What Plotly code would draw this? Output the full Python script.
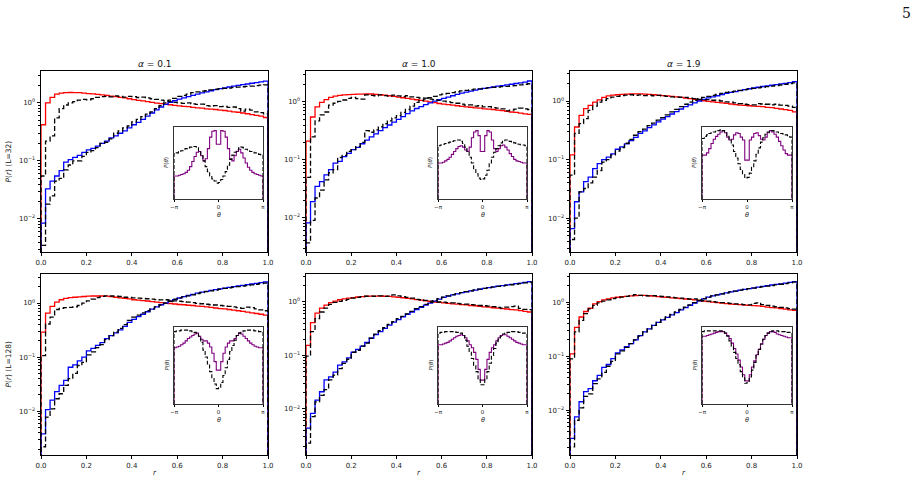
import numpy as np
import plotly.graph_objects as go

# ---------------- data ----------------
r_edges = np.linspace(0.0, 1.0, 51)
theta_edges = np.linspace(-np.pi, np.pi, 41)
r_ticks = [0.0, 0.2, 0.4, 0.6, 0.8, 1.0]
alpha_titles = ["0.1", "1.0", "1.9"]
L_labels = ["L=32", "L=128"]

# L=32, alpha=0.1
red_L32_a01 = [0.42,1.0,1.25,1.42,1.48,1.50,1.51,1.50,1.50,1.48,
               1.45,1.43,1.40,1.38,1.35,1.31,1.28,1.25,1.22,1.18,
               1.14,1.11,1.08,1.05,1.02,0.99,0.97,0.95,0.93,0.91,
               0.89,0.87,0.86,0.84,0.82,0.81,0.79,0.78,0.77,0.75,
               0.74,0.72,0.70,0.69,0.67,0.65,0.63,0.61,0.59,0.56]
dash1_L32_a01 = [0.055,0.22,0.27,0.55,0.80,0.92,1.0,1.05,1.12,1.15,
                 1.13,1.18,1.25,1.28,1.30,1.27,1.32,1.30,1.26,1.30,
                 1.28,1.24,1.26,1.22,1.18,1.15,1.12,1.08,1.05,1.02,
                 1.0,0.98,1.0,0.96,0.94,0.95,0.90,0.88,0.90,0.86,
                 0.87,0.84,0.85,0.80,0.72,0.78,0.75,0.70,0.68,0.65]
blue_L32_a01 = [0.0085,0.033,0.045,0.055,0.068,0.095,0.105,0.115,0.125,0.14,
                0.155,0.165,0.18,0.20,0.22,0.25,0.27,0.30,0.33,0.37,
                0.42,0.46,0.52,0.59,0.67,0.76,0.85,0.94,1.02,1.09,
                1.16,1.22,1.28,1.35,1.42,1.49,1.55,1.62,1.69,1.76,
                1.82,1.88,1.94,2.0,2.06,2.12,2.18,2.24,2.30,2.38]
dash2_L32_a01 = [0.0035,0.018,0.025,0.045,0.05,0.07,0.085,0.10,0.10,0.12,
                 0.14,0.15,0.17,0.20,0.21,0.24,0.30,0.33,0.37,0.40,
                 0.47,0.52,0.58,0.64,0.70,0.80,0.90,1.0,1.12,1.20,
                 1.30,1.35,1.42,1.50,1.55,1.60,1.62,1.68,1.72,1.75,
                 1.78,1.80,1.85,1.87,1.90,1.92,1.95,1.98,2.02,2.05]

# L=32, alpha=1.0
red_L32_a10 = [0.21,0.55,0.82,0.98,1.10,1.20,1.26,1.30,1.32,1.34,
               1.35,1.36,1.36,1.37,1.37,1.35,1.33,1.31,1.28,1.25,
               1.21,1.18,1.15,1.12,1.09,1.06,1.03,1.00,0.97,0.94,
               0.92,0.90,0.88,0.86,0.84,0.82,0.81,0.79,0.78,0.76,
               0.75,0.74,0.72,0.71,0.69,0.67,0.66,0.64,0.62,0.61]
dash1_L32_a10 = [0.05,0.25,0.47,0.60,0.67,0.88,0.95,1.02,1.08,1.15,
                 1.20,1.14,1.12,1.32,1.30,1.28,1.32,1.29,1.26,1.31,
                 1.27,1.24,1.28,1.22,1.20,1.17,1.16,1.12,1.10,1.06,
                 1.03,1.0,0.97,0.95,0.92,0.88,0.89,0.85,0.86,0.82,
                 0.83,0.80,0.78,0.76,0.70,0.72,0.75,0.78,0.76,0.74]
blue_L32_a10 = [0.0082,0.019,0.035,0.042,0.055,0.068,0.088,0.094,0.114,0.13,
                0.15,0.165,0.19,0.22,0.25,0.28,0.32,0.36,0.40,0.45,
                0.50,0.56,0.63,0.70,0.77,0.83,0.90,0.96,1.03,1.09,
                1.15,1.21,1.28,1.35,1.42,1.48,1.54,1.60,1.66,1.72,
                1.77,1.82,1.87,1.92,1.97,2.02,2.08,2.14,2.20,2.30]
dash2_L32_a10 = [0.0037,0.009,0.022,0.030,0.045,0.060,0.068,0.11,0.12,0.14,
                 0.15,0.17,0.20,0.32,0.30,0.33,0.37,0.42,0.47,0.53,
                 0.58,0.66,0.74,0.85,0.98,1.05,1.12,1.18,1.25,1.32,
                 1.36,1.40,1.45,1.50,1.55,1.58,1.62,1.66,1.68,1.72,
                 1.75,1.78,1.80,1.84,1.86,1.89,1.92,1.97,2.02,2.06]

# L=32, alpha=1.9
red_L32_a19 = [0.12,0.36,0.57,0.74,0.84,0.96,1.05,1.15,1.22,1.26,
               1.28,1.30,1.31,1.32,1.32,1.32,1.31,1.30,1.28,1.26,
               1.24,1.22,1.20,1.18,1.15,1.12,1.10,1.07,1.04,1.01,
               0.99,0.97,0.95,0.93,0.91,0.89,0.87,0.85,0.84,0.83,
               0.82,0.81,0.80,0.78,0.77,0.75,0.73,0.71,0.69,0.65]
dash1_L32_a19 = [0.054,0.28,0.41,0.50,0.69,0.82,0.96,1.03,1.10,1.17,
                 1.20,1.24,1.26,1.28,1.25,1.27,1.24,1.26,1.23,1.25,
                 1.22,1.20,1.18,1.17,1.16,1.15,1.12,1.10,1.07,1.05,
                 1.06,1.03,1.03,1.0,0.97,0.96,0.93,0.90,0.88,0.87,
                 0.86,0.90,0.89,0.88,0.86,0.88,0.85,0.84,0.82,0.78]
blue_L32_a19 = [0.0066,0.019,0.028,0.042,0.05,0.07,0.085,0.10,0.11,0.125,
                0.15,0.165,0.185,0.21,0.24,0.28,0.31,0.35,0.39,0.44,
                0.49,0.54,0.60,0.66,0.73,0.80,0.86,0.93,1.0,1.07,
                1.13,1.18,1.23,1.29,1.35,1.40,1.45,1.50,1.56,1.62,
                1.67,1.72,1.77,1.82,1.86,1.91,1.96,2.01,2.06,2.14]
dash2_L32_a19 = [0.0043,0.010,0.028,0.032,0.040,0.050,0.065,0.09,0.10,0.12,
                 0.14,0.16,0.19,0.22,0.26,0.30,0.33,0.38,0.42,0.47,
                 0.52,0.58,0.65,0.72,0.80,0.88,0.96,1.03,1.10,1.15,
                 1.20,1.25,1.30,1.35,1.40,1.44,1.48,1.52,1.56,1.60,
                 1.64,1.68,1.72,1.76,1.80,1.84,1.88,1.93,1.98,2.05]

# L=128, alpha=0.1
red_L128_a01 = [0.29,0.65,0.87,1.04,1.15,1.22,1.26,1.28,1.30,1.32,
                1.34,1.35,1.35,1.35,1.34,1.31,1.28,1.25,1.22,1.19,
                1.15,1.13,1.11,1.09,1.06,1.04,1.02,1.0,0.98,0.96,
                0.94,0.93,0.91,0.90,0.88,0.87,0.85,0.83,0.81,0.79,
                0.78,0.76,0.74,0.72,0.70,0.68,0.66,0.64,0.62,0.60]
dash1_L128_a01 = [0.107,0.41,0.55,0.76,0.80,0.82,0.83,0.85,0.90,1.0,
                  1.10,1.18,1.26,1.33,1.36,1.35,1.34,1.32,1.28,1.27,
                  1.25,1.23,1.22,1.20,1.18,1.16,1.14,1.15,1.13,1.10,
                  1.08,1.06,1.04,1.02,0.99,0.97,0.95,0.93,0.92,0.90,
                  0.89,0.87,0.85,0.82,0.80,0.84,0.82,0.78,0.75,0.72]
blue_L128_a01 = [0.0038,0.0107,0.016,0.023,0.03,0.037,0.065,0.072,0.085,0.10,
                 0.13,0.145,0.165,0.185,0.22,0.25,0.28,0.32,0.37,0.44,
                 0.50,0.56,0.62,0.69,0.77,0.85,0.93,1.0,1.08,1.16,
                 1.24,1.31,1.38,1.45,1.52,1.59,1.65,1.71,1.77,1.83,
                 1.89,1.95,2.01,2.07,2.13,2.19,2.25,2.31,2.38,2.45]
dash2_L128_a01 = [0.0022,0.0078,0.011,0.017,0.021,0.030,0.040,0.050,0.070,0.080,
                  0.11,0.125,0.15,0.17,0.21,0.25,0.29,0.34,0.40,0.48,
                  0.55,0.60,0.66,0.72,0.78,0.85,0.92,1.0,1.08,1.18,
                  1.25,1.30,1.36,1.42,1.50,1.56,1.62,1.68,1.74,1.80,
                  1.86,1.91,1.96,2.02,2.06,2.10,2.16,2.22,2.28,2.34]

# L=128, alpha=1.0
red_L128_a10 = [0.155,0.41,0.62,0.77,0.87,0.97,1.04,1.10,1.14,1.18,
                1.21,1.24,1.26,1.28,1.29,1.29,1.29,1.28,1.27,1.25,
                1.22,1.20,1.17,1.14,1.11,1.08,1.05,1.02,1.0,0.98,
                0.96,0.94,0.92,0.91,0.89,0.88,0.86,0.85,0.83,0.81,
                0.80,0.78,0.77,0.75,0.74,0.72,0.71,0.69,0.67,0.65]
dash1_L128_a10 = [0.097,0.28,0.49,0.65,0.77,0.90,0.98,1.03,1.07,1.12,
                  1.18,1.22,1.26,1.28,1.29,1.28,1.30,1.27,1.29,1.36,
                  1.30,1.26,1.22,1.18,1.12,1.10,1.07,1.04,1.02,1.0,
                  0.99,0.97,0.96,0.94,0.92,0.91,0.89,0.88,0.86,0.85,
                  0.84,0.82,0.79,0.77,0.80,0.82,0.84,0.76,0.73,0.72]
blue_L128_a10 = [0.0044,0.0083,0.0147,0.021,0.035,0.040,0.049,0.066,0.076,0.09,
                 0.115,0.13,0.15,0.175,0.21,0.245,0.28,0.32,0.37,0.42,
                 0.47,0.53,0.59,0.65,0.72,0.79,0.87,0.95,1.04,1.13,
                 1.22,1.29,1.36,1.42,1.49,1.55,1.61,1.67,1.73,1.79,
                 1.85,1.91,1.97,2.03,2.09,2.14,2.20,2.26,2.32,2.40]
dash2_L128_a10 = [0.0023,0.0072,0.0136,0.018,0.023,0.035,0.043,0.057,0.071,0.085,
                  0.115,0.125,0.15,0.17,0.21,0.25,0.29,0.33,0.38,0.43,
                  0.49,0.54,0.60,0.67,0.75,0.82,0.90,0.98,1.06,1.15,
                  1.23,1.30,1.37,1.43,1.50,1.56,1.62,1.68,1.74,1.80,
                  1.85,1.90,1.95,2.0,2.05,2.10,2.15,2.20,2.27,2.35]

# L=128, alpha=1.9
red_L128_a19 = [0.11,0.34,0.53,0.67,0.77,0.93,1.02,1.10,1.15,1.20,
                1.23,1.26,1.28,1.30,1.32,1.33,1.33,1.31,1.29,1.26,
                1.24,1.22,1.20,1.18,1.16,1.14,1.12,1.10,1.07,1.04,
                1.02,1.0,0.98,0.96,0.94,0.92,0.91,0.90,0.88,0.87,
                0.86,0.85,0.83,0.81,0.79,0.78,0.76,0.74,0.72,0.70]
dash1_L128_a19 = [0.089,0.28,0.46,0.61,0.75,0.87,0.97,1.04,1.10,1.16,
                  1.20,1.24,1.28,1.32,1.37,1.33,1.31,1.30,1.32,1.29,
                  1.27,1.25,1.22,1.20,1.18,1.16,1.14,1.15,1.10,1.06,
                  1.04,1.02,1.0,0.98,0.97,0.95,0.93,0.92,0.90,0.89,
                  0.95,0.97,0.90,0.87,0.84,0.82,0.80,0.78,0.76,0.74]
blue_L128_a19 = [0.003,0.0075,0.0143,0.022,0.025,0.035,0.044,0.062,0.07,0.09,
                 0.115,0.13,0.15,0.17,0.20,0.24,0.28,0.32,0.37,0.42,
                 0.47,0.52,0.58,0.64,0.72,0.79,0.87,0.96,1.05,1.15,
                 1.24,1.30,1.36,1.42,1.48,1.54,1.60,1.66,1.72,1.78,
                 1.83,1.89,1.95,2.01,2.07,2.12,2.18,2.24,2.31,2.40]
dash2_L128_a19 = [0.0021,0.0065,0.011,0.018,0.020,0.031,0.038,0.050,0.065,0.08,
                  0.11,0.125,0.145,0.17,0.20,0.235,0.28,0.32,0.37,0.42,
                  0.48,0.53,0.59,0.66,0.73,0.81,0.89,0.98,1.07,1.16,
                  1.24,1.30,1.36,1.42,1.48,1.54,1.60,1.66,1.71,1.77,
                  1.82,1.87,1.92,1.98,2.03,2.08,2.14,2.20,2.27,2.34]

# insets: P(theta), relative units (frame height = 1)
purple_L32_a01 = [0.32,0.32,0.33,0.34,0.35,0.37,0.40,0.45,0.52,0.59,
                  0.65,0.66,0.60,0.53,0.56,0.70,0.86,0.94,0.95,0.76,
                  0.76,0.95,0.94,0.86,0.70,0.56,0.53,0.60,0.66,0.69,
                  0.64,0.57,0.50,0.44,0.40,0.37,0.35,0.34,0.33,0.32]
dtheta_L32_a01 = [0.63,0.64,0.66,0.67,0.69,0.70,0.71,0.72,0.73,0.73,
                  0.71,0.67,0.60,0.53,0.45,0.38,0.32,0.28,0.25,0.22,
                  0.23,0.27,0.32,0.38,0.47,0.55,0.61,0.65,0.68,0.71,
                  0.72,0.71,0.69,0.68,0.66,0.65,0.64,0.63,0.62,0.61]
purple_L32_a10 = [0.50,0.50,0.51,0.53,0.55,0.58,0.62,0.66,0.70,0.73,
                  0.74,0.72,0.68,0.66,0.72,0.85,0.93,0.95,0.88,0.66,
                  0.66,0.88,0.95,0.93,0.82,0.70,0.66,0.70,0.74,0.75,
                  0.72,0.68,0.63,0.59,0.55,0.53,0.52,0.51,0.50,0.50]
dtheta_L32_a10 = [0.74,0.75,0.76,0.77,0.78,0.79,0.80,0.81,0.82,0.82,
                  0.80,0.77,0.72,0.65,0.58,0.50,0.42,0.35,0.29,0.27,
                  0.28,0.33,0.40,0.50,0.58,0.65,0.70,0.74,0.78,0.81,
                  0.82,0.82,0.80,0.79,0.78,0.77,0.76,0.75,0.75,0.74]
purple_L32_a19 = [0.61,0.61,0.64,0.70,0.77,0.83,0.87,0.90,0.93,0.95,
                  0.92,0.86,0.82,0.83,0.89,0.92,0.91,0.86,0.82,0.54,
                  0.54,0.82,0.86,0.91,0.92,0.88,0.83,0.82,0.86,0.92,
                  0.95,0.93,0.90,0.86,0.80,0.74,0.68,0.63,0.61,0.61]
dtheta_L32_a19 = [0.84,0.87,0.89,0.91,0.92,0.93,0.94,0.95,0.96,0.95,
                  0.92,0.88,0.82,0.75,0.66,0.57,0.49,0.41,0.34,0.29,
                  0.30,0.36,0.44,0.53,0.62,0.71,0.79,0.85,0.90,0.93,
                  0.95,0.95,0.94,0.93,0.92,0.91,0.90,0.89,0.88,0.86]
purple_L128_a01 = [0.73,0.74,0.75,0.77,0.79,0.82,0.85,0.87,0.89,0.91,
                   0.92,0.88,0.84,0.82,0.82,0.79,0.74,0.66,0.55,0.44,
                   0.44,0.55,0.66,0.74,0.79,0.82,0.82,0.85,0.89,0.92,
                   0.91,0.88,0.85,0.82,0.79,0.77,0.75,0.74,0.73,0.73]
dtheta_L128_a01 = [0.94,0.95,0.95,0.96,0.96,0.96,0.96,0.95,0.94,0.93,
                   0.92,0.88,0.80,0.70,0.61,0.52,0.42,0.33,0.26,0.20,
                   0.21,0.28,0.37,0.47,0.58,0.68,0.76,0.83,0.89,0.92,
                   0.94,0.95,0.96,0.96,0.96,0.96,0.95,0.95,0.94,0.94]
purple_L128_a10 = [0.77,0.77,0.78,0.79,0.80,0.82,0.84,0.86,0.88,0.89,
                   0.90,0.89,0.86,0.82,0.77,0.73,0.67,0.58,0.45,0.31,
                   0.31,0.45,0.58,0.67,0.73,0.77,0.82,0.86,0.89,0.90,
                   0.90,0.88,0.86,0.84,0.82,0.80,0.79,0.78,0.77,0.77]
dtheta_L128_a10 = [0.92,0.93,0.93,0.94,0.94,0.94,0.94,0.94,0.93,0.93,
                   0.92,0.89,0.83,0.75,0.67,0.59,0.50,0.42,0.33,0.25,
                   0.25,0.32,0.42,0.53,0.63,0.72,0.79,0.84,0.88,0.91,
                   0.92,0.93,0.93,0.94,0.94,0.94,0.93,0.93,0.92,0.92]
purple_L128_a19 = [0.88,0.88,0.89,0.90,0.91,0.92,0.93,0.94,0.94,0.94,
                   0.92,0.89,0.85,0.79,0.72,0.65,0.57,0.48,0.38,0.30,
                   0.30,0.38,0.48,0.56,0.64,0.71,0.78,0.84,0.89,0.92,
                   0.94,0.94,0.93,0.91,0.90,0.89,0.88,0.87,0.86,0.86]
dtheta_L128_a19 = [0.94,0.95,0.95,0.95,0.95,0.95,0.95,0.95,0.95,0.94,
                   0.92,0.88,0.82,0.75,0.67,0.59,0.51,0.42,0.34,0.27,
                   0.28,0.35,0.44,0.54,0.63,0.71,0.78,0.84,0.89,0.92,
                   0.94,0.95,0.95,0.95,0.94,0.94,0.94,0.93,0.93,0.93]

panels = [
    [(red_L32_a01, dash1_L32_a01, blue_L32_a01, dash2_L32_a01, purple_L32_a01, dtheta_L32_a01),
     (red_L32_a10, dash1_L32_a10, blue_L32_a10, dash2_L32_a10, purple_L32_a10, dtheta_L32_a10),
     (red_L32_a19, dash1_L32_a19, blue_L32_a19, dash2_L32_a19, purple_L32_a19, dtheta_L32_a19)],
    [(red_L128_a01, dash1_L128_a01, blue_L128_a01, dash2_L128_a01, purple_L128_a01, dtheta_L128_a01),
     (red_L128_a10, dash1_L128_a10, blue_L128_a10, dash2_L128_a10, purple_L128_a10, dtheta_L128_a10),
     (red_L128_a19, dash1_L128_a19, blue_L128_a19, dash2_L128_a19, purple_L128_a19, dtheta_L128_a19)],
]

# ---------------- layout (pixels) ----------------
W, H = 918, 482
FONT = "DejaVu Sans"
panel_x = [(41, 268), (306, 532), (570, 797)]
row_y = [(71, 252), (274, 455)]
inset_x = [(174, 263), (438, 527), (702, 792)]
inset_y = [(127, 199), (327, 404)]
yranges = [[(-2.57, 0.55), (-2.59, 0.534), (-2.58, 0.513)],
           [(-2.81, 0.537), (-2.86, 0.523), (-2.83, 0.52)]]


def dx(a, b):
    return [a / W, b / W]


def dy(top, bottom):
    return [1 - bottom / H, 1 - top / H]


def step_xy(edges, vals, floor):
    v = np.asarray(vals, dtype=float)
    xs = np.concatenate([[edges[0]], edges[:-1], [edges[-1], edges[-1]]])
    ys = np.concatenate([[floor], v, [v[-1], floor]])
    return xs, ys


fig = go.Figure()
layout = {}
annotations = []

major = [0.01, 0.1, 1.0]
major_txt = ["10<sup>\u22122</sup>", "10<sup>\u22121</sup>", "10<sup>0</sup>"]
minor = [k * 10.0 ** e for e in (-3, -2, -1, 0) for k in range(2, 10)]

idx = 0
for row in range(2):
    for col in range(3):
        idx += 1
        k = idx
        ki = idx + 6
        red, d1, blue, d2, pur, dth = panels[row][col]
        xa = "x" if k == 1 else f"x{k}"
        ya = "y" if k == 1 else f"y{k}"
        xai, yai = f"x{ki}", f"y{ki}"

        for vals, color, dash in [(red, "#ff0000", None), (blue, "#0000ff", None),
                                  (d1, "#000000", "5px,2.5px"), (d2, "#000000", "5px,2.5px")]:
            xs, ys = step_xy(r_edges, vals, 1e-4)
            fig.add_trace(go.Scatter(x=xs, y=ys, mode="lines", line_shape="hv",
                                     line=dict(color=color, width=1.3, dash=dash),
                                     xaxis=xa, yaxis=ya, showlegend=False,
                                     hoverinfo="skip"))
        for vals, color, dash, w in [(pur, "#800080", None, 1.1), (dth, "#000000", "4px,2px", 1.1)]:
            xs, ys = step_xy(theta_edges, vals, 0.0)
            fig.add_trace(go.Scatter(x=xs, y=ys, mode="lines", line_shape="hv",
                                     line=dict(color=color, width=w, dash=dash),
                                     xaxis=xai, yaxis=yai, showlegend=False,
                                     hoverinfo="skip"))

        x0, x1 = panel_x[col]
        y0, y1 = row_y[row]
        yr = yranges[row][col]
        layout["xaxis" if k == 1 else f"xaxis{k}"] = dict(
            domain=dx(x0, x1), anchor=ya, range=[0, 1], automargin=False,
            tickmode="array", tickvals=r_ticks, ticktext=[f"{t:.1f}" for t in r_ticks],
            ticks="outside", ticklen=3.5, tickwidth=0.8, tickcolor="black",
            showline=True, mirror=True, linecolor="black", linewidth=0.8,
            showgrid=False, zeroline=False,
            tickfont=dict(family=FONT, size=7, color="#222"))
        layout["yaxis" if k == 1 else f"yaxis{k}"] = dict(
            domain=dy(y0, y1), anchor=xa, type="log", range=list(yr), automargin=False,
            tickmode="array", tickvals=major, ticktext=major_txt,
            ticks="outside", ticklen=3.5, tickwidth=0.8, tickcolor="black",
            minor=dict(tickmode="array", tickvals=minor, ticks="outside",
                       ticklen=2, tickwidth=0.6, tickcolor="black", showgrid=False),
            showline=True, mirror=True, linecolor="black", linewidth=0.8,
            showgrid=False, zeroline=False,
            tickfont=dict(family=FONT, size=7, color="#222"))

        ix0, ix1 = inset_x[col]
        iy0, iy1 = inset_y[row]
        layout[f"xaxis{ki}"] = dict(
            domain=dx(ix0, ix1), anchor=yai, range=[-np.pi, np.pi], automargin=False,
            tickmode="array", tickvals=[-np.pi, 0, np.pi], ticktext=["\u2212\u03c0", "0", "\u03c0"],
            ticks="outside", ticklen=2, tickwidth=0.6, tickcolor="black",
            showline=True, mirror=True, linecolor="#333", linewidth=0.8,
            showgrid=False, zeroline=False,
            tickfont=dict(family=FONT, size=5.5, color="#222"))
        layout[f"yaxis{ki}"] = dict(
            domain=dy(iy0, iy1), anchor=xai, range=[0, 1], automargin=False,
            showticklabels=False, ticks="",
            showline=True, mirror=True, linecolor="#333", linewidth=0.8,
            showgrid=False, zeroline=False)

        # inset labels
        annotations.append(dict(text="<i>\u03b8</i>", xref="paper", yref="paper",
                                x=(ix0 + ix1) / 2 / W, y=1 - (iy1 + 16) / H,
                                showarrow=False, xanchor="center", yanchor="middle",
                                font=dict(family=FONT, size=6.5, color="#222")))
        annotations.append(dict(text="<i>P</i>(<i>\u03b8</i>)", xref="paper", yref="paper",
                                x=(ix0 - 8) / W, y=1 - (iy0 + iy1) / 2 / H, textangle=-90,
                                showarrow=False, xanchor="center", yanchor="middle",
                                font=dict(family=FONT, size=5.5, color="#222")))

        if row == 0:
            annotations.append(dict(text=f"<i>\u03b1</i> = {alpha_titles[col]}",
                                    xref="paper", yref="paper",
                                    x=(x0 + x1) / 2 / W, y=1 - 64 / H, showarrow=False,
                                    xanchor="center", yanchor="middle",
                                    font=dict(family=FONT, size=9, color="#111")))
        else:
            annotations.append(dict(text="<i>r</i>", xref="paper", yref="paper",
                                    x=(x0 + x1) / 2 / W, y=1 - 472 / H, showarrow=False,
                                    xanchor="center", yanchor="middle",
                                    font=dict(family=FONT, size=7.5, color="#222")))
        if col == 0:
            annotations.append(dict(text=f"<i>P</i>(<i>r</i>) ({L_labels[row]})",
                                    xref="paper", yref="paper",
                                    x=8 / W, y=1 - (y0 + y1) / 2 / H, textangle=-90,
                                    showarrow=False, xanchor="center", yanchor="middle",
                                    font=dict(family=FONT, size=7.5, color="#222")))

annotations.append(dict(text="5", xref="paper", yref="paper", x=906 / W, y=1 - 13 / H,
                        showarrow=False, xanchor="center", yanchor="middle",
                        font=dict(family="DejaVu Serif", size=14, color="#111")))

fig.update_layout(width=W, height=H, margin=dict(l=0, r=0, t=0, b=0, autoexpand=False),
                  paper_bgcolor="white", plot_bgcolor="white",
                  showlegend=False, annotations=annotations, **layout)

fig.write_html("out.html")
